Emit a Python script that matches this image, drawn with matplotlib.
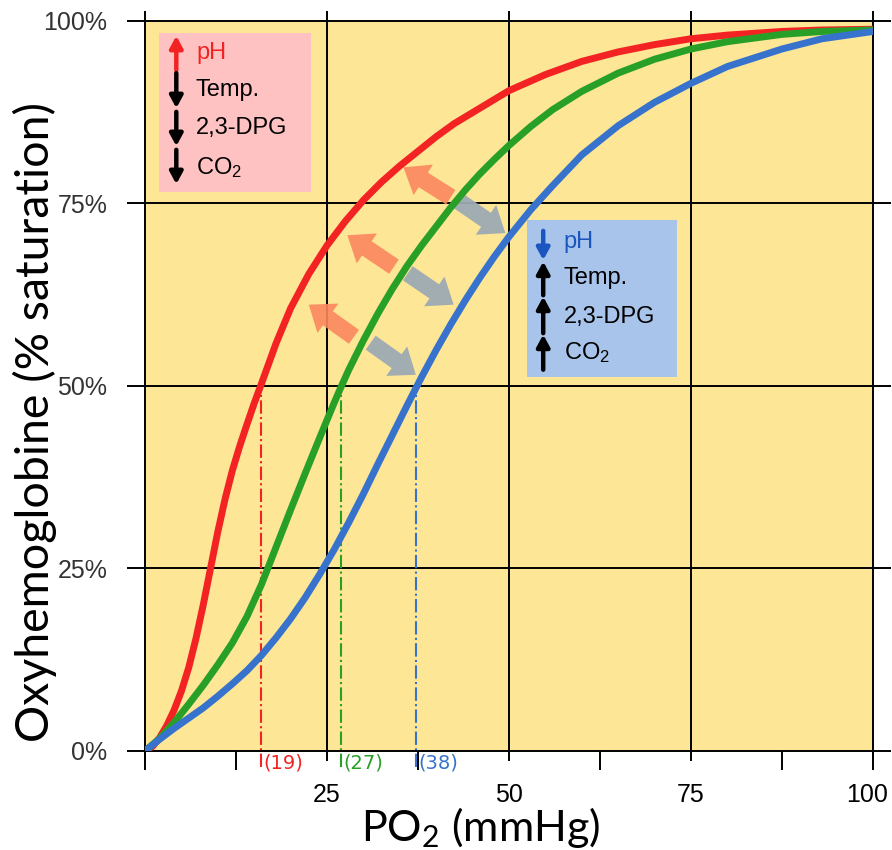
import matplotlib
matplotlib.use("Agg")
import matplotlib.pyplot as plt
from matplotlib.patches import Rectangle
from matplotlib.transforms import ScaledTranslation

# --- data ---
po2_red = [0, 1, 2, 3, 4, 5, 6, 7, 8, 9, 10, 11, 12, 13, 14, 15, 16, 18, 20, 22.5, 25, 27.5,
           30, 32.5, 35, 37.5, 40, 42.5, 45, 47.5, 50, 55, 60, 65, 70, 75, 80, 87.5, 93, 100]
sat_red = [0, 0.6, 1.8, 3.5, 5.6, 8.2, 11.4, 15.4, 20.0, 25.0, 30.0, 34.5, 38.4, 41.7, 44.7, 47.6,
           50.3, 55.8, 60.6, 65.3, 69.2, 72.5, 75.4, 77.9, 80.1, 82.1, 84.1, 85.9, 87.4, 88.9,
           90.4, 92.6, 94.4, 95.7, 96.7, 97.5, 98.0, 98.5, 98.7, 98.8]

po2_green = [0, 2, 4, 6, 8, 10, 12, 14, 16, 18, 20, 22, 24, 26, 27, 28, 30, 32, 34, 36, 38, 40,
             42, 44, 46, 48, 50, 53, 56, 60, 65, 70, 75, 80, 87.5, 93, 100]
sat_green = [0, 1.7, 3.9, 6.4, 9.0, 11.8, 14.8, 18.4, 22.8, 27.9, 33.0, 38.0, 42.9, 47.7, 50.0,
             52.2, 56.2, 59.9, 63.3, 66.4, 69.2, 71.8, 74.4, 76.8, 79.0, 81.0, 82.9, 85.5, 87.8,
             90.3, 92.8, 94.7, 96.1, 97.1, 98.1, 98.5, 98.7]

po2_blue = [0, 2, 4, 6, 8, 10, 12, 14, 16, 18, 20, 22, 24, 26, 28, 30, 32, 34, 36, 38, 40, 42,
            44, 46, 48, 50, 53, 56, 60, 65, 70, 75, 80, 87.5, 93, 100]
sat_blue = [0, 1.6, 3.1, 4.5, 5.9, 7.5, 9.2, 11.0, 13.1, 15.5, 18.1, 21.0, 24.2, 27.6, 31.3,
            35.2, 39.3, 43.3, 47.3, 51.2, 54.9, 58.4, 61.7, 64.8, 67.7, 70.4, 74.1, 77.4, 81.6,
            85.6, 88.8, 91.4, 93.7, 96.1, 97.5, 98.5]

p50_x = [15.9, 26.9, 37.2]
p50_labels = ["(19)", "(27)", "(38)"]

# double arrows between the curves (tail, tip) in data units
left_arrows = [((42.0, 75.8), (35.5, 79.9)), ((34.2, 66.3), (27.8, 70.6)), ((28.7, 56.7), (22.5, 61.1))]
right_arrows = [((42.9, 75.4), (49.5, 70.9)), ((36.1, 65.4), (42.4, 61.1)), ((31.0, 55.9), (37.2, 51.5))]

left_box_items = ["pH", "Temp.", "2,3-DPG", "CO$\\mathregular{_2}$"]
right_box_items = ["pH", "Temp.", "2,3-DPG", "CO$\\mathregular{_2}$"]

red = "#F42323"
green = "#28A028"
blue = "#3773CD"

fig = plt.figure(figsize=(8.92, 8.5), dpi=100)
ax = fig.add_axes([145 / 892, 1 - 751 / 850, 728 / 892, 730.5 / 850])
ax.set_facecolor("#FDE696")
ax.set_xlim(0, 100)
ax.set_ylim(0, 100)

for v in [25, 50, 75]:
    ax.axvline(v, color="black", lw=1.4, zorder=1)
    ax.axhline(v, color="black", lw=1.4, zorder=1)
for s in ax.spines.values():
    s.set_linewidth(1.4)

# dashed P50 lines
for xv, lab, c in zip(p50_x, p50_labels, [red, green, blue]):
    ax.plot([xv, xv], [-2.2, 49], color=c, lw=1.5, ls="-.", clip_on=False, zorder=2)
    ax.text(xv + 0.3, -1.7, lab, color=c, fontsize=14, family="Liberation Sans Narrow",
            ha="left", va="center", clip_on=False)

for xs, ys, c in [(po2_red, sat_red, red), (po2_green, sat_green, green), (po2_blue, sat_blue, blue)]:
    ax.plot(xs, ys, color=c, lw=5, solid_capstyle="round", solid_joinstyle="round", zorder=4)

arrow_style = "simple,head_length=1.3,head_width=2.0,tail_width=0.95"
for (tail, tip) in left_arrows:
    ax.annotate("", xy=tip, xytext=tail,
                arrowprops=dict(arrowstyle=arrow_style, mutation_scale=13, color="#FA875F",
                                alpha=0.9, lw=0, shrinkA=0, shrinkB=0), zorder=3)
for (tail, tip) in right_arrows:
    ax.annotate("", xy=tip, xytext=tail,
                arrowprops=dict(arrowstyle=arrow_style, mutation_scale=13, color="#9DAAB3",
                                alpha=0.95, lw=0, shrinkA=0, shrinkB=0), zorder=3)

# legend-like boxes
ax.add_patch(Rectangle((1.9, 76.5), 20.9, 21.8, facecolor="#FFC2C2", edgecolor="none", zorder=2))
ax.add_patch(Rectangle((52.5, 51.2), 20.6, 21.5, facecolor="#A9C4EA", edgecolor="none", zorder=2))

left_y = [95.6, 90.5, 85.3, 79.9]
left_arrow_y = [(93.2, 97.9), (92.8, 88.0), (87.5, 82.8), (82.3, 77.6)]
right_y = [69.7, 64.8, 59.4, 54.6]
right_arrow_y = [(71.2, 67.2), (62.4, 67.0), (57.2, 62.2), (52.2, 57.0)]

for i, (lab, yv, (y0, y1)) in enumerate(zip(left_box_items, left_y, left_arrow_y)):
    c = red if i == 0 else "black"
    ax.annotate("", xy=(4.3, y1), xytext=(4.3, y0),
                arrowprops=dict(arrowstyle="-|>,head_length=0.7,head_width=0.38", lw=3.2,
                                color=c, shrinkA=0, shrinkB=0), zorder=3)
    ax.text(7.0, yv, lab, color=c, fontsize=17, family="Liberation Sans", va="center", zorder=3)

for i, (lab, yv, (y0, y1)) in enumerate(zip(right_box_items, right_y, right_arrow_y)):
    c = "#1A55C0" if i == 0 else "black"
    ax.annotate("", xy=(54.7, y1), xytext=(54.7, y0),
                arrowprops=dict(arrowstyle="-|>,head_length=0.7,head_width=0.38", lw=3.2,
                                color=c, shrinkA=0, shrinkB=0), zorder=3)
    ax.text(57.5, yv, lab, color=c, fontsize=17, family="Liberation Sans", va="center", zorder=3)

# ticks
ax.xaxis.remove_overlapping_locs = False
ax.set_xticks([0, 25, 50, 75, 100])
ax.set_xticklabels(["", "25", "50", "75", "100"])
ax.set_xticks([0, 12.5, 37.5, 62.5, 87.5, 100], minor=True)
ax.set_yticks([0, 25, 50, 75, 100])
ax.set_yticklabels(["0%", "25%", "50%", "75%", "100%"])
ax.tick_params(axis="x", which="major", direction="out", length=7, width=1.4, top=True,
               pad=16, labelsize=18)
ax.tick_params(axis="x", which="minor", direction="out", length=14, width=1.4)
ax.tick_params(axis="y", which="major", direction="out", length=13, width=1.4, right=True,
               pad=14, labelsize=18, labelcolor="#333333")
for t in ax.get_xticklabels():
    t.set_family(["Liberation Sans Narrow", "Liberation Sans"])
for t in ax.get_yticklabels():
    t.set_family("Liberation Sans")
last = ax.get_xticklabels()[-1]
last.set_transform(last.get_transform() + ScaledTranslation(-4 / 72, 0, fig.dpi_scale_trans))

fig.text(481 / 892, 1 - 827 / 850, "PO$\\mathregular{_2}$ (mmHg)", fontsize=31, family="Lato",
         ha="center", va="center")
fig.text(35 / 892, 1 - 422 / 850, "Oxyhemoglobine (% saturation)", fontsize=33.5, family="Lato",
         rotation=90, ha="center", va="center")

fig.savefig("out.png", dpi=100)
